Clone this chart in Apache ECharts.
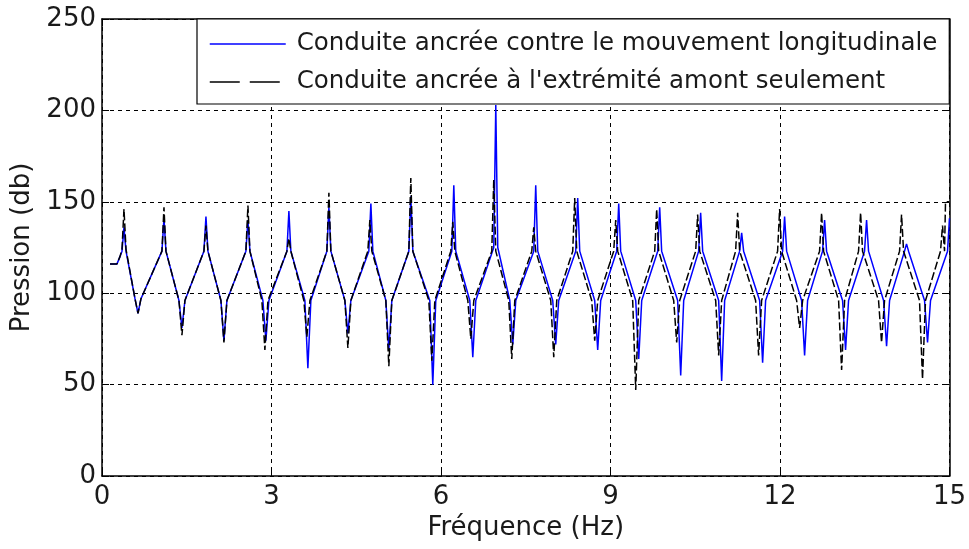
<!DOCTYPE html>
<html>
<head>
<meta charset="utf-8">
<script src="https://cdn.jsdelivr.net/npm/echarts@6/dist/echarts.min.js"></script>
<style>
html,body{margin:0;padding:0;background:#fff;}
#chart{width:969px;height:549px;}
</style>
</head>
<body>
<div id="chart"></div>
<script>
// Axis ticks
var xTicks = [0, 3, 6, 9, 12, 15];
var yTicks = [0, 50, 100, 150, 200, 250];

// Series names
var seriesNames = [
  "Conduite ancrée contre le mouvement longitudinale",
  "Conduite ancrée à l'extrémité amont seulement"
];

// Blue series: pipe anchored against longitudinal movement  [frequency Hz, pressure db]
var bluePoints = [
  [0.142,116],[0.265,116],[0.318,120],
  [0.354,123],[0.389,136],[0.425,123],
  [0.584,97],[0.637,89],[0.690,97],
  [1.061,123],[1.097,141],[1.132,123],
  [1.362,96],[1.415,81],[1.468,96],
  [1.804,123],[1.840,142],[1.875,123],
  [2.105,96],[2.158,74],[2.211,96],
  [2.547,123],[2.583,140],[2.618,123],
  [2.848,96],[2.901,74],[2.954,96],
  [3.273,123],[3.308,145],[3.343,123],
  [3.591,96],[3.644,59],[3.697,96],
  [3.980,123],[4.016,147],[4.051,123],
  [4.299,96],[4.352,78],[4.405,96],
  [4.723,123],[4.759,149],[4.794,123],
  [5.024,96],[5.077,69],[5.130,96],
  [5.431,123],[5.466,153],[5.502,123],
  [5.802,96],[5.855,50],[5.908,96],
  [6.192,123],[6.227,159],[6.262,123],
  [6.510,96],[6.563,65],[6.616,96],
  [6.934,125],[6.970,203],[7.005,125],
  [7.218,96],[7.271,72],[7.324,96],
  [7.642,123],[7.677,159],[7.713,123],
  [7.978,96],[8.031,72],[8.084,96],
  [8.385,123],[8.420,152],[8.456,123],
  [8.721,96],[8.774,69],[8.827,96],
  [9.110,123],[9.146,149],[9.181,123],
  [9.447,96],[9.500,64],[9.553,96],
  [9.836,123],[9.871,147],[9.906,123],
  [10.189,96],[10.243,55],[10.296,96],
  [10.561,123],[10.596,144],[10.632,123],
  [10.915,96],[10.968,52],[11.021,96],
  [11.286,123],[11.322,133],[11.357,123],
  [11.640,96],[11.693,62],[11.746,96],
  [12.047,123],[12.082,142],[12.118,123],
  [12.383,96],[12.436,66],[12.489,96],
  [12.754,123],[12.790,140],[12.825,123],
  [13.108,96],[13.161,69],[13.214,96],
  [13.497,123],[13.533,140],[13.568,123],
  [13.834,96],[13.887,71],[13.940,96],
  [14.205,123],[14.240,127],[14.276,123],
  [14.559,96],[14.612,73],[14.665,96],
  [14.966,123],[15.000,141]
];

// Black dashed series: pipe anchored at upstream end only  [frequency Hz, pressure db]
var blackPoints = [
  [0.142,116],[0.265,116],[0.318,120],
  [0.354,124],[0.389,146],[0.425,124],
  [0.584,97],[0.637,89],[0.690,97],
  [1.061,123],[1.097,147],[1.132,123],
  [1.362,96],[1.415,77],[1.468,96],
  [1.804,123],[1.840,137],[1.875,123],
  [2.105,96],[2.158,73],[2.211,96],
  [2.547,123],[2.583,148],[2.618,123],
  [2.830,96],[2.883,69],[2.937,96],
  [3.273,123],[3.308,130],[3.343,123],
  [3.573,96],[3.626,76],[3.680,96],
  [3.980,123],[4.016,155],[4.051,123],
  [4.299,96],[4.352,70],[4.405,96],
  [4.705,123],[4.741,140],[4.776,123],
  [5.024,96],[5.077,60],[5.130,96],
  [5.431,123],[5.466,163],[5.502,123],
  [5.785,96],[5.838,63],[5.891,96],
  [6.174,123],[6.209,139],[6.245,123],
  [6.475,96],[6.528,75],[6.581,96],
  [6.899,123],[6.934,162],[6.970,123],
  [7.200,96],[7.253,64],[7.306,96],
  [7.607,123],[7.642,136],[7.677,123],
  [7.943,96],[7.996,65],[8.049,96],
  [8.332,123],[8.367,152],[8.403,123],
  [8.668,96],[8.721,74],[8.774,96],
  [9.057,123],[9.093,140],[9.128,123],
  [9.393,96],[9.447,47],[9.500,96],
  [9.783,123],[9.818,146],[9.853,123],
  [10.119,96],[10.172,73],[10.225,96],
  [10.508,123],[10.543,143],[10.579,123],
  [10.862,96],[10.915,66],[10.968,96],
  [11.215,123],[11.251,144],[11.286,123],
  [11.569,96],[11.622,66],[11.675,96],
  [11.958,123],[11.994,146],[12.029,123],
  [12.295,96],[12.348,81],[12.401,96],
  [12.701,123],[12.737,144],[12.772,123],
  [13.038,96],[13.091,58],[13.144,96],
  [13.391,123],[13.427,144],[13.462,123],
  [13.745,96],[13.798,73],[13.851,96],
  [14.117,123],[14.152,143],[14.188,123],
  [14.470,96],[14.523,53],[14.576,96],
  [14.842,123],[14.877,137],[14.913,123],
  [14.930,150],[15.000,150]
];

var FONT = "DejaVu Sans";
var TXT = "#1a1a1a";
var chart = echarts.init(document.getElementById('chart'), null, {renderer: 'canvas'});

var gridLine = {show: true, lineStyle: {color: '#000', type: [4, 4], width: 1}};
var tick = {show: true, inside: true, length: 7, lineStyle: {color: '#000', width: 1}};
var line = {show: true, onZero: false, lineStyle: {color: '#000', width: 1.5}};

var option = {
  animation: false,
  backgroundColor: '#fff',
  grid: {left: 102, right: 19, top: 19, bottom: 73, containLabel: false},
  legend: {
    show: true,
    left: 197, top: 19,
    orient: 'vertical',
    backgroundColor: '#fff',
    borderColor: '#000', borderWidth: 1.2, borderRadius: 0,
    padding: [10, 12, 7, 12],
    itemWidth: 76, itemHeight: 14, itemGap: 8,
    itemStyle: {color: 'rgba(0,0,0,0)', borderWidth: 0, opacity: 0},
    textStyle: {fontFamily: FONT, fontSize: 24.5, color: TXT, lineHeight: 30, padding: [0, 0, 0, 6]},
    data: [
      {name: seriesNames[0], lineStyle: {color: '#0000ff', width: 1.5, type: 'solid'}},
      {name: seriesNames[1], lineStyle: {color: '#000', width: 1.5, type: [30, 10]}}
    ],
    z: 10
  },
  xAxis: [{
    type: 'value', min: xTicks[0], max: xTicks[xTicks.length - 1], interval: 3,
    axisLine: line, axisTick: tick, splitLine: gridLine,
    axisLabel: {fontFamily: FONT, fontSize: 26, color: TXT, margin: 8},
    name: 'Fréquence (Hz)', nameLocation: 'middle', nameGap: 39,
    nameTextStyle: {fontFamily: FONT, fontSize: 26, color: TXT}
  }, {
    type: 'value', position: 'top', min: 0, max: 15, interval: 3,
    axisLine: line, axisTick: tick, axisLabel: {show: false}, splitLine: {show: false}
  }],
  yAxis: [{
    type: 'value', min: yTicks[0], max: yTicks[yTicks.length - 1], interval: 50,
    axisLine: line, axisTick: tick, splitLine: gridLine,
    axisLabel: {fontFamily: FONT, fontSize: 26, color: TXT, margin: 6},
    name: 'Pression (db)', nameLocation: 'middle', nameGap: 66,
    nameTextStyle: {fontFamily: FONT, fontSize: 26, color: TXT}
  }, {
    type: 'value', position: 'right', min: 0, max: 250, interval: 50,
    axisLine: line, axisTick: tick, axisLabel: {show: false}, splitLine: {show: false}
  }],
  series: [{
    name: seriesNames[0], type: 'line', data: bluePoints,
    showSymbol: false, symbol: 'none',
    lineStyle: {color: '#0000ff', width: 1.5}, itemStyle: {color: '#0000ff'},
    z: 2
  }, {
    name: seriesNames[1], type: 'line', data: blackPoints,
    showSymbol: false, symbol: 'none',
    lineStyle: {color: '#000', width: 1.5, type: [8, 3]}, itemStyle: {color: '#000'},
    z: 3
  }]
};
chart.setOption(option);
</script>
</body>
</html>
